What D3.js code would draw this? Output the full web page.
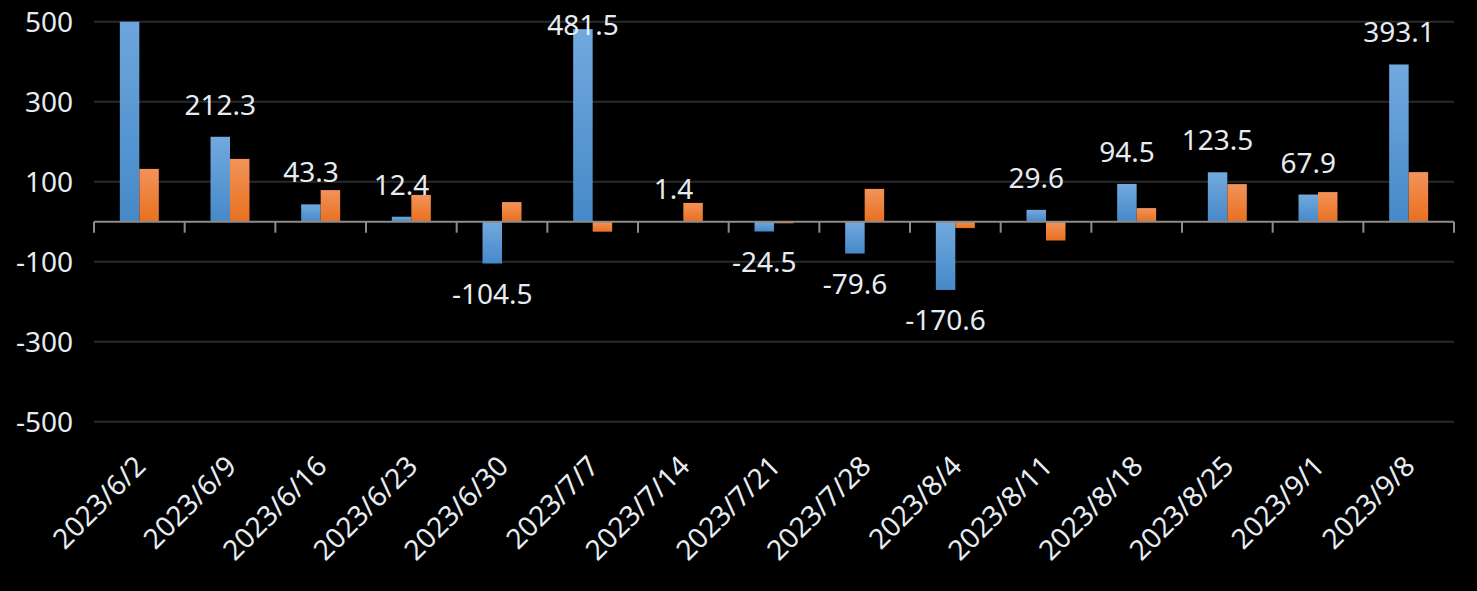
<!DOCTYPE html>
<html>
<head>
<meta charset="utf-8">
<script src="https://cdn.jsdelivr.net/npm/d3@7"></script>
<style>
html,body{margin:0;padding:0;background:#000;}
svg{display:block;}
text{font-family:"Noto Sans","Open Sans",sans-serif;}
</style>
</head>
<body>
<svg id="chart" width="1477" height="591"></svg>
<script>
const categories = ["2023/6/2","2023/6/9","2023/6/16","2023/6/23","2023/6/30","2023/7/7","2023/7/14","2023/7/21","2023/7/28","2023/8/4","2023/8/11","2023/8/18","2023/8/25","2023/9/1","2023/9/8"];
const seriesA = [560, 212.3, 43.3, 12.4, -104.5, 481.5, 1.4, -24.5, -79.6, -170.6, 29.6, 94.5, 123.5, 67.9, 393.1];
const seriesB = [132, 157, 79, 67, 49, -25, 47, -4, 82, -16, -47, 34, 94, 74, 124];
const yTicks = [500, 300, 100, -100, -300, -500];
const seriesNames = ["A", "B"];

const plotLeft = 94, plotRight = 1454, plotTop = 21.7, plotBottom = 421.7;
const svg = d3.select("#chart");

const defs = svg.append("defs");
function grad(id, c1, c2) {
  const g = defs.append("linearGradient").attr("id", id).attr("x1", 0).attr("y1", 0).attr("x2", 0).attr("y2", 1);
  g.append("stop").attr("offset", "0%").attr("stop-color", c1);
  g.append("stop").attr("offset", "100%").attr("stop-color", c2);
}
grad("gA", "#72a9de", "#4689c9");
grad("gB", "#f2935a", "#e8701f");
defs.append("clipPath").attr("id", "plotClip").append("rect")
  .attr("x", plotLeft).attr("y", plotTop).attr("width", plotRight - plotLeft).attr("height", plotBottom - plotTop);

const x0 = d3.scaleBand().domain(categories).range([plotLeft, plotRight]).paddingInner(0).paddingOuter(0);
const bw = x0.bandwidth();
const x1 = d3.scaleBand().domain(seriesNames).range([bw * 0.285, bw * 0.715]).padding(0);
const y = d3.scaleLinear().domain([-500, 500]).range([plotBottom, plotTop]);

// gridlines
svg.append("g").selectAll("line").data(yTicks).join("line")
  .attr("x1", plotLeft).attr("x2", plotRight)
  .attr("y1", d => y(d)).attr("y2", d => y(d))
  .attr("stroke", "#2a2a2a").attr("stroke-width", 2);

// y tick labels
svg.append("g").selectAll("text").data(yTicks).join("text")
  .attr("x", 73).attr("y", d => y(d) + 10)
  .attr("text-anchor", "end")
  .attr("fill", "#e6ecf2").attr("font-size", 28)
  .text(d => d);

// bars
const bars = svg.append("g").attr("clip-path", "url(#plotClip)");
const data = categories.map((c, i) => ({c, a: seriesA[i], b: seriesB[i]}));
bars.selectAll("rect.a").data(data).join("rect").attr("class", "a")
  .attr("x", d => x0(d.c) + x1("A"))
  .attr("width", x1.bandwidth())
  .attr("y", d => y(Math.max(0, d.a)))
  .attr("height", d => Math.abs(y(d.a) - y(0)))
  .attr("fill", "url(#gA)");
bars.selectAll("rect.b").data(data).join("rect").attr("class", "b")
  .attr("x", d => x0(d.c) + x1("B"))
  .attr("width", x1.bandwidth())
  .attr("y", d => y(Math.max(0, d.b)))
  .attr("height", d => Math.abs(y(d.b) - y(0)))
  .attr("fill", "url(#gB)");

// x axis line and ticks
const ax = svg.append("g");
ax.append("line").attr("x1", plotLeft).attr("x2", plotRight).attr("y1", y(0)).attr("y2", y(0))
  .attr("stroke", "#8c8c8c").attr("stroke-width", 2);
const bounds = categories.map(c => x0(c)).concat([plotRight]);
ax.selectAll("line.t").data(bounds).join("line").attr("class", "t")
  .attr("x1", d => d).attr("x2", d => d)
  .attr("y1", y(0)).attr("y2", y(0) + 11)
  .attr("stroke", "#8c8c8c").attr("stroke-width", 2);

// data labels (series A)
svg.append("g").selectAll("text").data(data.filter(d => d.a <= 500 && d.a >= -500)).join("text")
  .attr("x", d => x0(d.c) + x1("A") + x1.bandwidth() / 2)
  .attr("y", d => d.a >= 0 ? Math.max(35, y(d.a) - 22) : y(d.a) + 40)
  .attr("text-anchor", "middle")
  .attr("fill", "#e6ecf2").attr("font-size", 28)
  .text(d => d.a.toFixed(1));

// category labels
svg.append("g").selectAll("text").data(categories).join("text")
  .attr("transform", d => `translate(${x0(d) + bw / 2 + 8},468) rotate(-45)`)
  .attr("text-anchor", "end")
  .attr("fill", "#e6ecf2").attr("font-size", 28)
  .text(d => d);
</script>
</body>
</html>
